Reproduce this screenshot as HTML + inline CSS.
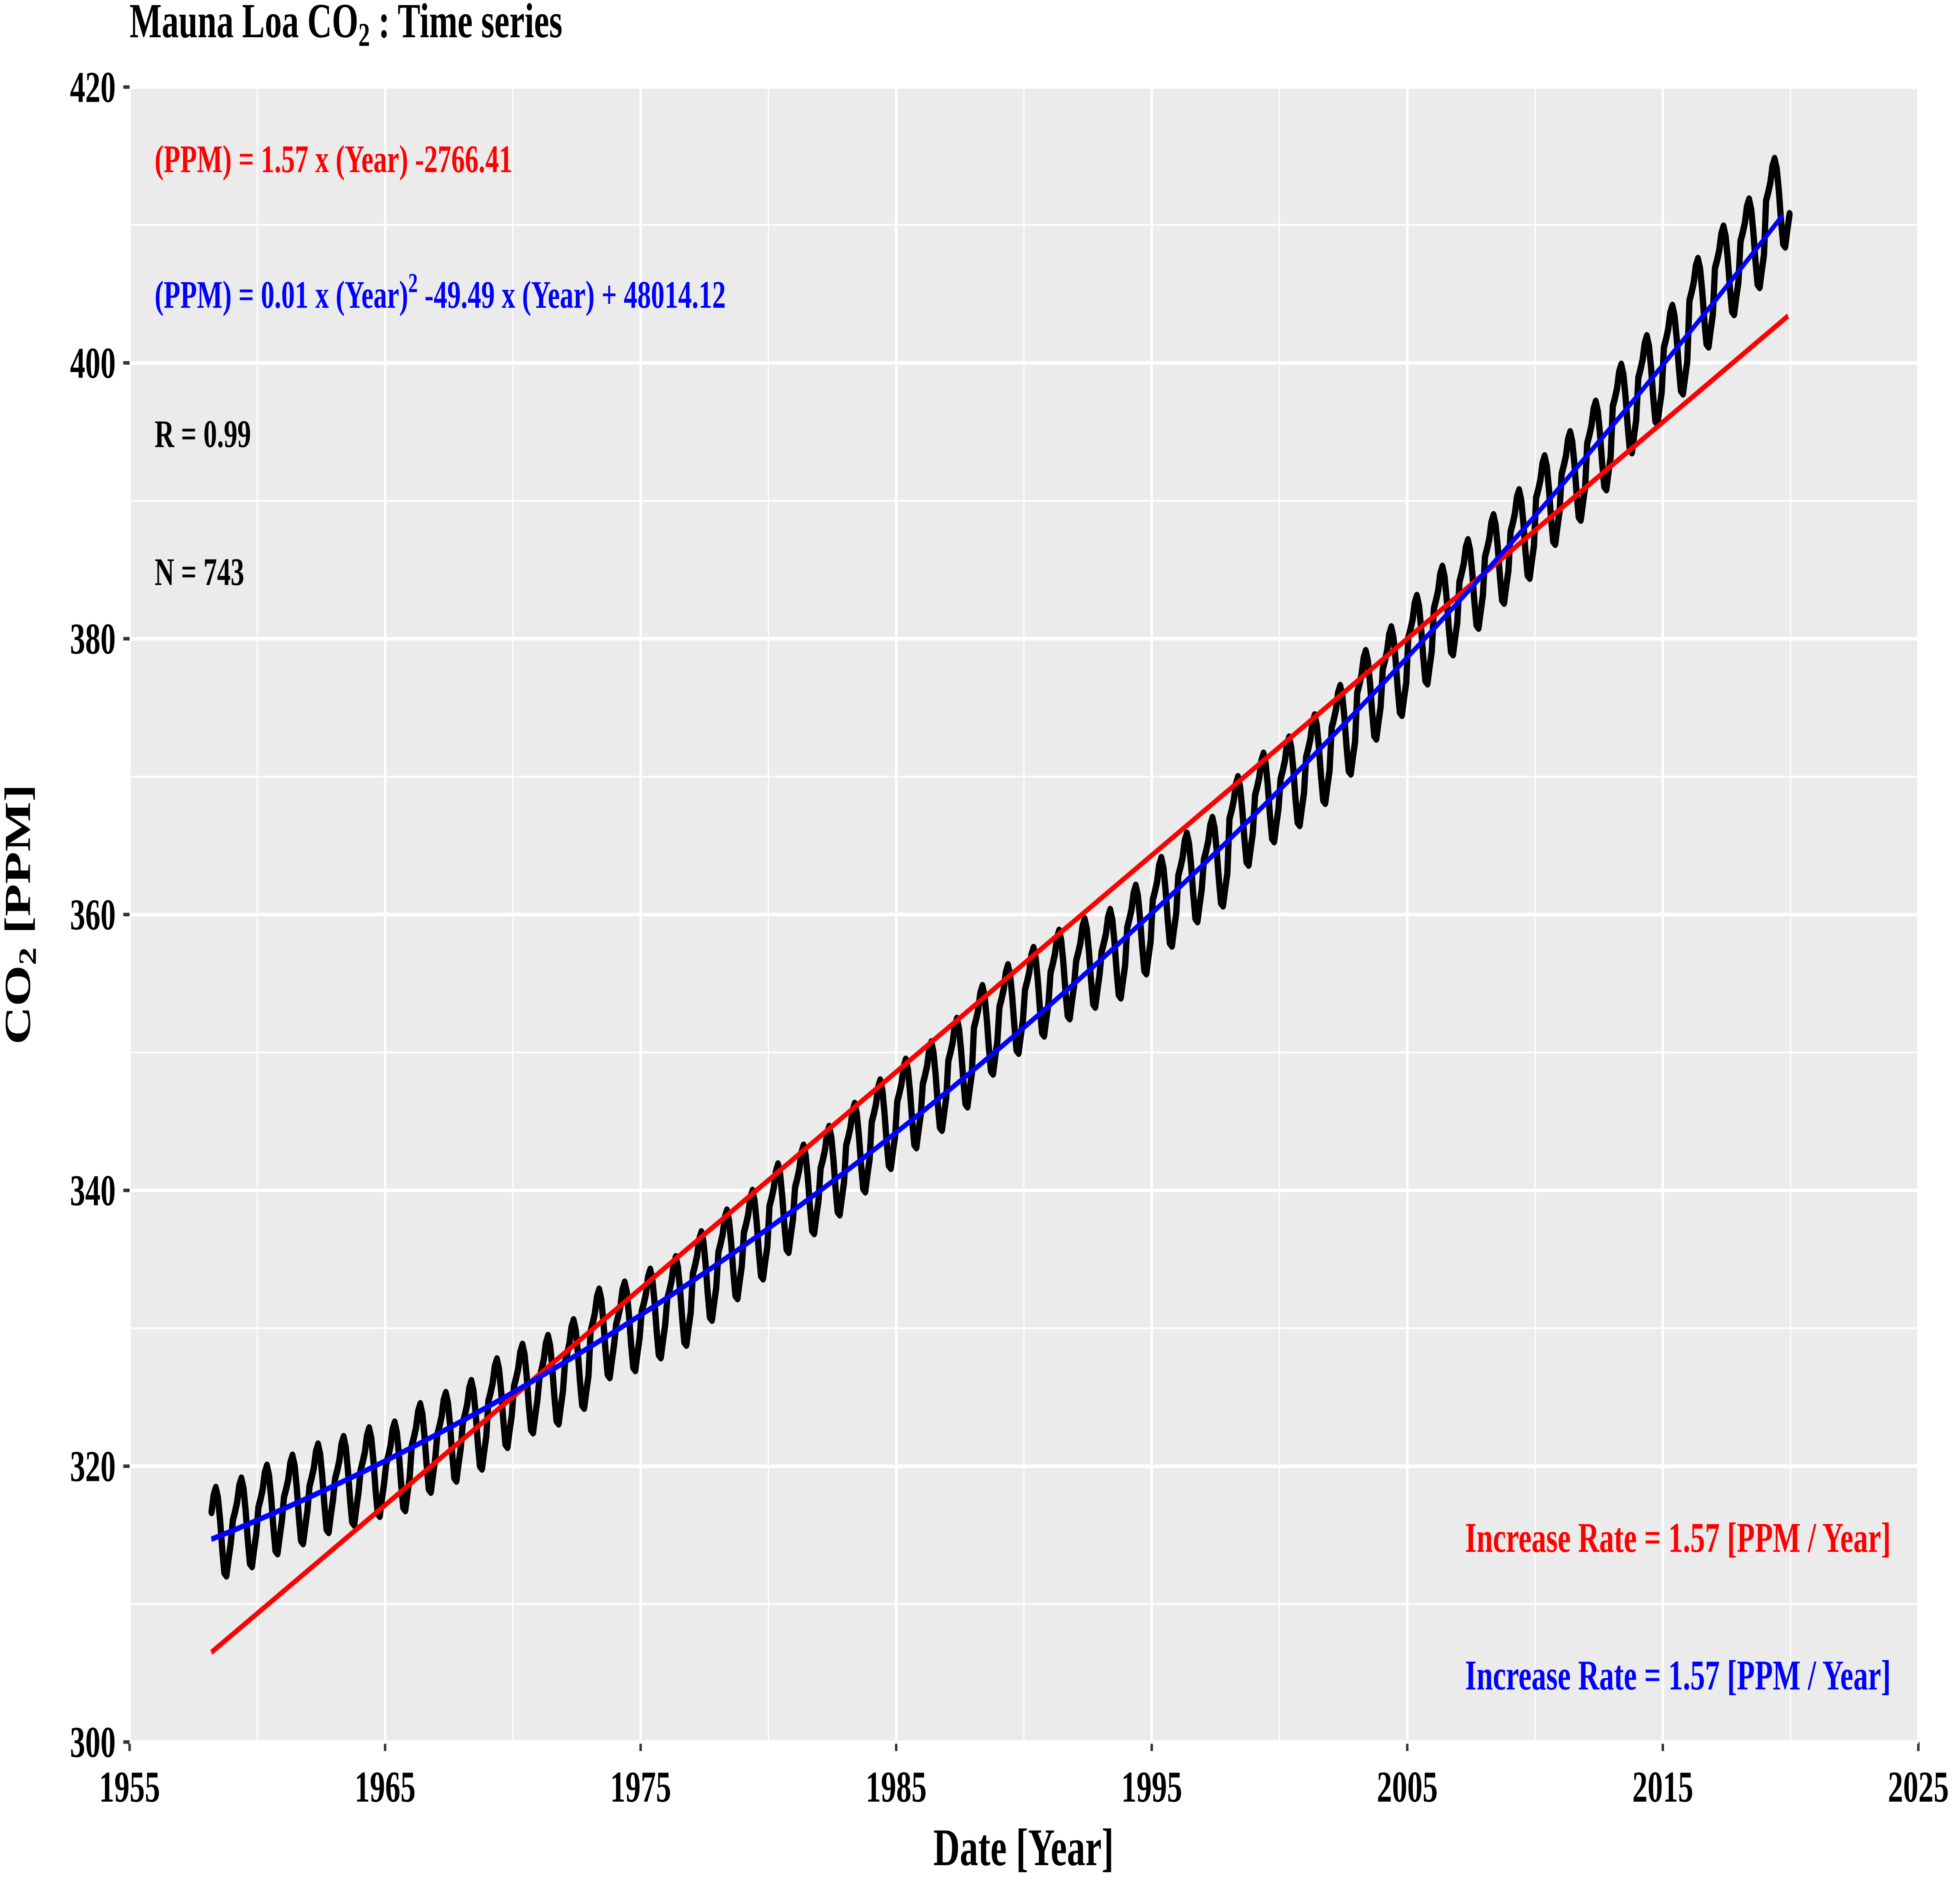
<!DOCTYPE html>
<html><head><meta charset="utf-8"><style>
html,body{margin:0;padding:0;background:#fff;width:100vw;height:100vh;overflow:hidden}
svg{display:block;width:100vw;height:100vh}
text{font-family:"Liberation Serif",serif;font-weight:bold}
</style></head><body>
<svg id="chart" viewBox="0 0 7200 4800" preserveAspectRatio="none" xmlns="http://www.w3.org/2000/svg" style="overflow:hidden">
<rect width="7200" height="4800" fill="#fff"/>
<g id="panel"></g>
<g id="marks"></g>
<g id="labels"></g>
<text x="476" y="95" font-size="125" fill="#000">Mauna Loa CO<tspan font-size="85" dy="22">2</tspan><tspan dy="-22"> : Time series</tspan></text>
<text x="568" y="439" font-size="100" fill="#ff0000">(PPM) = 1.57 x (Year) -2766.41</text>
<text x="568" y="785" font-size="100" fill="#0000ff">(PPM) = 0.01 x (Year)<tspan font-size="70" dy="-40">2</tspan><tspan dy="40"> -49.49 x (Year) + 48014.12</tspan></text>
<text x="568" y="1140" font-size="100" fill="#000">R = 0.99</text>
<text x="568" y="1492" font-size="100" fill="#000">N = 743</text>
<text x="6946" y="3958" font-size="108" text-anchor="end" fill="#ff0000">Increase Rate = 1.57 [PPM / Year]</text>
<text x="6946" y="4309" font-size="108" text-anchor="end" fill="#0000ff">Increase Rate = 1.57 [PPM / Year]</text>
<text x="3760" y="4757" font-size="135" text-anchor="middle" fill="#000">Date  [Year]</text>
<text transform="translate(110,2332) rotate(-90)" font-size="135" text-anchor="middle" fill="#000">CO<tspan font-size="92" dy="22">2</tspan><tspan dy="-22">  [PPM]</tspan></text>
</svg>
<script>
const xTicks=[1955,1965,1975,1985,1995,2005,2015,2025];
const yTicks=[300,320,340,360,380,400,420];
const years=[];for(let y=1958;y<=2019;y++)years.push(y);
const annualMean=[315.3,315.98,316.91,317.64,318.45,318.99,319.62,320.04,321.37,322.18,323.05,324.62,325.68,326.32,327.46,329.68,330.19,331.12,332.03,333.84,335.41,336.84,338.76,340.12,341.48,343.15,344.85,346.35,347.61,349.31,351.69,353.2,354.45,355.7,356.54,357.21,358.96,360.97,362.74,363.88,366.84,368.54,369.71,371.32,373.45,375.98,377.7,379.98,382.09,384.02,385.83,387.64,390.1,391.85,394.06,396.74,398.81,401.01,404.41,406.76,408.72,411.66];
const seasonal=[0.1,0.7,1.4,2.6,3.1,2.4,0.8,-1.3,-3.0,-3.2,-2.0,-0.9];
const linFitX=[1958.2,2019.9];
const linFitY=[306.5,403.4];
const quadFitX=[1958.2,1985,2019.9];
const quadFitY=[314.7,344.2,411.2];

const X0=476,X1=7047,Y0=222,Y1=4443;
const sx=v=>X0+(v-1955)/(2025-1955)*(X1-X0);
const sy=v=>Y1-(v-300)/(420-300)*(Y1-Y0);
const NS="http://www.w3.org/2000/svg";
function mk(tag,attrs,parent){const e=document.createElementNS(NS,tag);for(const k in attrs)e.setAttribute(k,attrs[k]);parent.appendChild(e);return e;}
const panel=document.getElementById('panel'),marks=document.getElementById('marks'),labels=document.getElementById('labels');
const bg=mk('rect',{x:X0,y:Y0,width:X1-X0,height:Y1-Y0,fill:'#ebebeb'},panel);


for(let i=0;i<xTicks.length-1;i++){const m=(xTicks[i]+xTicks[i+1])/2;const l=mk('line',{x1:sx(m),x2:sx(m),y1:Y0,y2:Y1,stroke:'#fff','stroke-width':4.6},panel);

}
for(let i=0;i<yTicks.length-1;i++){const m=(yTicks[i]+yTicks[i+1])/2;const l=mk('line',{x1:X0,x2:X1,y1:sy(m),y2:sy(m),stroke:'#fff','stroke-width':4.6},panel);

}
xTicks.forEach(t=>{const l=mk('line',{x1:sx(t),x2:sx(t),y1:Y0,y2:Y1,stroke:'#fff','stroke-width':9},panel);


const tk=mk('line',{x1:sx(t),x2:sx(t),y1:Y1,y2:Y1+23,stroke:'#333','stroke-width':9},panel);


const tx=mk('text',{x:sx(t),y:4595,'font-size':112,'text-anchor':'middle',fill:'#000'},labels);tx.textContent=t;

});
yTicks.forEach(t=>{const l=mk('line',{x1:X0,x2:X1,y1:sy(t),y2:sy(t),stroke:'#fff','stroke-width':9},panel);


const tk=mk('line',{x1:X0-23,x2:X0,y1:sy(t),y2:sy(t),stroke:'#333','stroke-width':9},panel);


const tx=mk('text',{x:425,y:sy(t)+38,'font-size':112,'text-anchor':'end',fill:'#000'},labels);tx.textContent=t;

});
let pts=[];
years.forEach((y,i)=>{for(let m=0;m<12;m++){if(y===1958&&m<2)continue;const t=y+(m+0.5)/12;pts.push(sx(t).toFixed(1)+','+sy(annualMean[i]+seasonal[m]).toFixed(1));}});
const ser=mk('polyline',{points:pts.join(' '),fill:'none',stroke:'#000','stroke-width':23,'stroke-linejoin':'round','stroke-linecap':'round'},marks);


const lin=mk('line',{x1:sx(linFitX[0]),y1:sy(linFitY[0]),x2:sx(linFitX[1]),y2:sy(linFitY[1]),stroke:'#ff0000','stroke-width':14},marks);


function quad(x){let s=0;for(let i=0;i<3;i++){let p=quadFitY[i];for(let j=0;j<3;j++)if(j!==i)p*=(x-quadFitX[j])/(quadFitX[i]-quadFitX[j]);s+=p;}return s;}
let qp=[];for(let x=quadFitX[0];x<=quadFitX[2]+0.001;x+=0.25)qp.push(sx(x).toFixed(1)+','+sy(quad(x)).toFixed(1));
const qd=mk('polyline',{points:qp.join(' '),fill:'none',stroke:'#0000ff','stroke-width':14},marks);


</script>
</body></html>
